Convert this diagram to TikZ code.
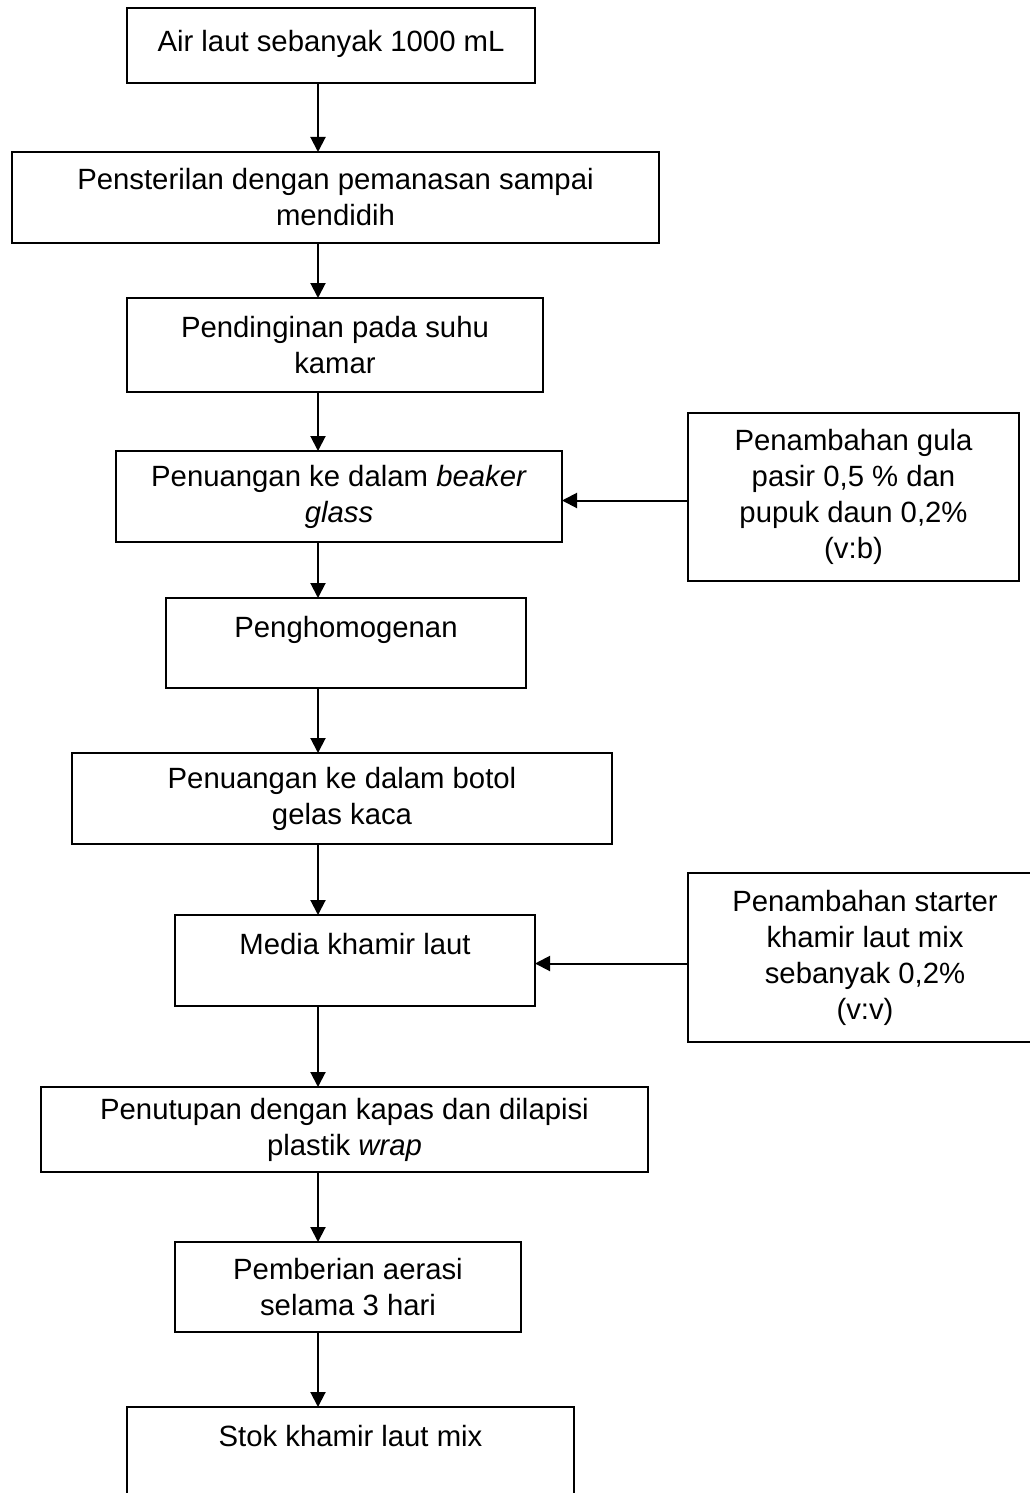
\documentclass[tikz,border=0pt]{standalone}
\usepackage{fontspec}
\setmainfont{Liberation Sans}
\usepackage{tikz}
\usetikzlibrary{arrows.meta, positioning}

\begin{document}
\begin{tikzpicture}[
    box/.style={draw, line width=1pt, outer sep=0pt, minimum height=45.5pt, align=center, inner sep=2pt,
      font=\fontsize{14.65pt}{18pt}\selectfont},
    arr/.style={-{Triangle[length=7.5pt, width=7.5pt]}, line width=1pt},
]
\useasboundingbox (0,0) rectangle (514.5pt,-746.5pt);
\coordinate (axis) at (159pt,0);

\node[box, minimum width=204pt, minimum height=37.5pt] (air) at (165.5pt,-22.75pt) {Air laut sebanyak 1000 mL\\[-13pt]};
\node[box, minimum width=323.5pt, below=34.5pt of air, xshift=2.25pt] (steril) {Pensterilan dengan pemanasan sampai\\mendidih};
\node[box, minimum width=208pt, minimum height=47pt, below=27.5pt of steril, xshift=-0.25pt] (cool) {Pendinginan pada suhu\\kamar};
\node[box, minimum width=223pt, below=29.5pt of cool, xshift=2pt] (beaker) {Penuangan ke dalam \textit{beaker}\\\textit{glass}};
\node[box, minimum width=165.5pt, minimum height=84pt, right=63pt of beaker] (gula) {Penambahan gula\\pasir 0,5 \% dan\\pupuk daun 0,2\%\\(v:b)};
\node[box, minimum width=180pt, minimum height=45pt, below=28pt of beaker, xshift=3.5pt] (homogen) {Penghomogenan\\[-7pt]\strut};
\node[box, minimum width=270pt, below=32.5pt of homogen, xshift=-2pt] (botol) {Penuangan ke dalam botol\\gelas kaca};
\node[box, minimum width=180pt, below=35.5pt of botol, xshift=6.5pt] (media) {Media khamir laut\\[-7pt]\strut};
\node[box, minimum width=177pt, minimum height=84.5pt, right=76.5pt of media, yshift=1.5pt] (starter) {Penambahan starter\\khamir laut mix\\sebanyak 0,2\%\\(v:v)};
\node[box, minimum width=303.5pt, minimum height=42.5pt, below=40.5pt of media, xshift=-5.25pt] (tutup) {Penutupan dengan kapas dan dilapisi\\plastik \textit{wrap}};
\node[box, minimum width=173pt, minimum height=45pt, below=35pt of tutup, xshift=1.75pt] (aerasi) {Pemberian aerasi\\selama 3 hari};
\node[box, minimum width=223.5pt, below=37.5pt of aerasi, xshift=1.25pt] (stok) {Stok khamir laut mix\\[-7pt]\strut};

\draw[arr] (air.south -| axis) -- (steril.north -| axis);
\draw[arr] (steril.south -| axis) -- (cool.north -| axis);
\draw[arr] (cool.south -| axis) -- (beaker.north -| axis);
\draw[arr] (beaker.south -| axis) -- (homogen.north -| axis);
\draw[arr] (homogen.south -| axis) -- (botol.north -| axis);
\draw[arr] (botol.south -| axis) -- (media.north -| axis);
\draw[arr] (media.south -| axis) -- (tutup.north -| axis);
\draw[arr] (tutup.south -| axis) -- (aerasi.north -| axis);
\draw[arr] (aerasi.south -| axis) -- (stok.north -| axis);
\draw[arr] ([yshift=-2pt]gula.west) -- ([yshift=-2pt]gula.west -| beaker.east);
\draw[arr] ([yshift=-3pt]starter.west) -- ([yshift=-3pt]starter.west -| media.east);
\end{tikzpicture}
\end{document}
